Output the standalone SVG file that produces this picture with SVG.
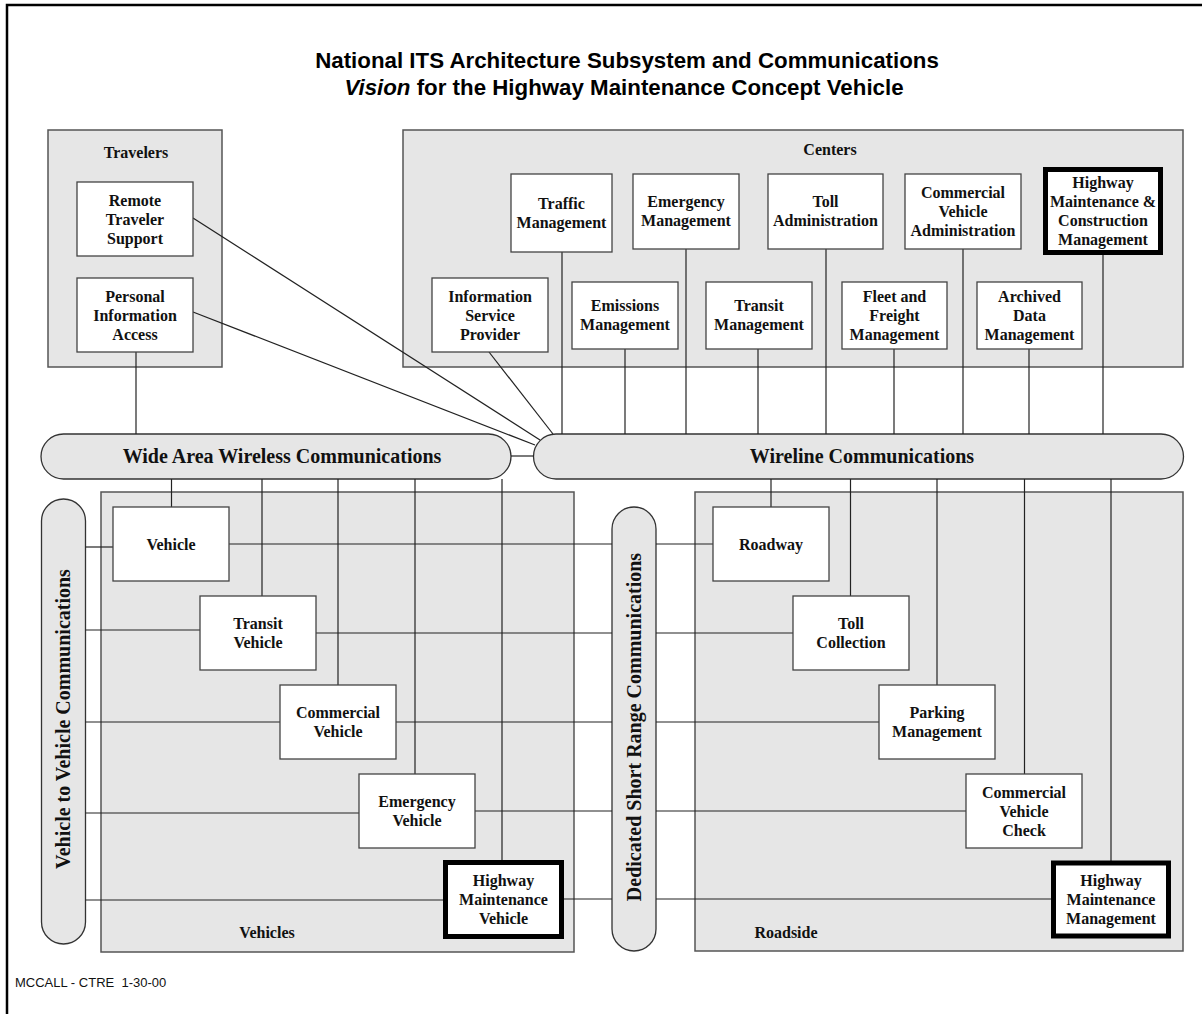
<svg xmlns="http://www.w3.org/2000/svg" width="1202" height="1014" viewBox="0 0 1202 1014">
<style>
.grp{fill:#e6e6e6;stroke:#555;stroke-width:1.5}
.pill{fill:#e6e6e6;stroke:#333;stroke-width:1.3}
.node{fill:#fff;stroke:#444;stroke-width:1.3}
.hl{fill:#fff;stroke:#000;stroke-width:5}
.t{font-family:"Liberation Serif","Times New Roman",serif;font-weight:bold;font-size:16px;fill:#111;text-anchor:middle}
.big{font-size:20px}
.ttl{font-family:"Liberation Sans",Arial,sans-serif;font-weight:bold;font-size:22.3px;fill:#000;text-anchor:middle}
.c line,.c polyline{stroke:#222;stroke-width:1.2;fill:none}
</style>
<rect width="1202" height="1014" fill="#fff"/>
<rect x="7" y="5" width="1300" height="1100" fill="none" stroke="#000" stroke-width="2.5"/>
<g id="title">
<text class="ttl" x="627" y="68">National ITS Architecture Subsystem and Communications</text>
<text class="ttl" x="624" y="95"><tspan font-style="italic">Vision</tspan> for the Highway Maintenance Concept Vehicle</text>
</g>
<g id="travelers"><rect class="grp" x="48" y="130" width="174" height="237"/><text class="t" x="136" y="158">Travelers</text></g>
<g id="centers"><rect class="grp" x="403" y="130" width="780" height="237"/><text class="t" x="830" y="155">Centers</text></g>
<g id="vehicles"><rect class="grp" x="101" y="492" width="473" height="460"/><text class="t" x="267" y="938">Vehicles</text></g>
<g id="roadside"><rect class="grp" x="695" y="492" width="488" height="459"/><text class="t" x="786" y="938">Roadside</text></g>

<g id="wide-area-wireless"><rect class="pill" x="41" y="434" width="470" height="45" rx="22.5"/><text class="t big" x="282" y="463">Wide Area Wireless Communications</text></g>
<g id="wireline"><rect class="pill" x="533.5" y="434" width="650" height="45" rx="22.5"/><text class="t big" x="862" y="463">Wireline Communications</text></g>
<g id="v2v"><rect class="pill" x="41.5" y="499" width="44" height="445" rx="22"/><text class="t big" transform="translate(70,719) rotate(-90)">Vehicle to Vehicle Communications</text></g>
<g id="dsrc"><rect class="pill" x="612" y="507" width="44" height="444" rx="22"/><text class="t big" transform="translate(641,727) rotate(-90)">Dedicated Short Range Communications</text></g>

<g id="connectors" class="c">
<line x1="136" y1="352" x2="136" y2="434"/>
<line x1="193" y1="218" x2="540" y2="440"/>
<line x1="193" y1="312" x2="535" y2="445"/>
<line x1="489" y1="352" x2="553" y2="434"/>
<line x1="511" y1="456" x2="534" y2="456"/>
<line x1="562" y1="252" x2="562" y2="434"/>
<line x1="686" y1="249" x2="686" y2="434"/>
<line x1="826" y1="249" x2="826" y2="434"/>
<line x1="963" y1="249" x2="963" y2="434"/>
<line x1="1103" y1="255" x2="1103" y2="434"/>
<line x1="625" y1="349" x2="625" y2="434"/>
<line x1="758" y1="349" x2="758" y2="434"/>
<line x1="894" y1="349" x2="894" y2="434"/>
<line x1="1029" y1="349" x2="1029" y2="434"/>
<line x1="171.5" y1="479" x2="171.5" y2="507"/>
<line x1="262" y1="479" x2="262" y2="596"/>
<line x1="338" y1="479" x2="338" y2="685"/>
<line x1="415" y1="479" x2="415" y2="774"/>
<line x1="502" y1="479" x2="502" y2="860"/>
<line x1="771" y1="479" x2="771" y2="507"/>
<line x1="850.5" y1="479" x2="850.5" y2="596"/>
<line x1="937" y1="479" x2="937" y2="685"/>
<line x1="1024.5" y1="479" x2="1024.5" y2="774"/>
<line x1="1111" y1="479" x2="1111" y2="861"/>
<line x1="85.5" y1="547" x2="113" y2="547"/>
<line x1="229" y1="544" x2="612" y2="544"/>
<line x1="85.5" y1="630" x2="200" y2="630"/>
<line x1="316" y1="633" x2="612" y2="633"/>
<line x1="85.5" y1="722" x2="280" y2="722"/>
<line x1="396" y1="722" x2="612" y2="722"/>
<line x1="85.5" y1="813" x2="359" y2="813"/>
<line x1="475" y1="811" x2="612" y2="811"/>
<line x1="85.5" y1="900" x2="443" y2="900"/>
<line x1="564" y1="899" x2="612" y2="899"/>
<line x1="656" y1="544" x2="713" y2="544"/>
<line x1="656" y1="633" x2="793" y2="633"/>
<line x1="656" y1="722" x2="879" y2="722"/>
<line x1="656" y1="811" x2="966" y2="811"/>
<line x1="656" y1="899" x2="1051" y2="899"/>
</g>

<g id="remote-traveler-support"><rect class="node" x="77" y="182" width="116" height="74"/><text class="t" x="135" y="205.5">Remote<tspan x="135" dy="19">Traveler</tspan><tspan x="135" dy="19">Support</tspan></text></g>
<g id="personal-information-access"><rect class="node" x="77" y="278" width="116" height="74"/><text class="t" x="135" y="301.5">Personal<tspan x="135" dy="19">Information</tspan><tspan x="135" dy="19">Access</tspan></text></g>

<g id="traffic-management"><rect class="node" x="511" y="174" width="101" height="78"/><text class="t" x="561.5" y="208.5">Traffic<tspan x="561.5" dy="19">Management</tspan></text></g>
<g id="emergency-management"><rect class="node" x="633" y="174" width="106" height="75"/><text class="t" x="686" y="207">Emergency<tspan x="686" dy="19">Management</tspan></text></g>
<g id="toll-administration"><rect class="node" x="768" y="174" width="115" height="75"/><text class="t" x="825.5" y="207">Toll<tspan x="825.5" dy="19">Administration</tspan></text></g>
<g id="commercial-vehicle-administration"><rect class="node" x="905" y="174" width="116" height="75"/><text class="t" x="963" y="197.5">Commercial<tspan x="963" dy="19">Vehicle</tspan><tspan x="963" dy="19">Administration</tspan></text></g>
<g id="highway-maintenance-construction-management"><rect class="hl" x="1045.5" y="169.5" width="115" height="83"/><text class="t" x="1103" y="187.5">Highway<tspan x="1103" dy="19.3">Maintenance &amp;</tspan><tspan x="1103" dy="19.3">Construction</tspan><tspan x="1103" dy="19.3">Management</tspan></text></g>
<g id="information-service-provider"><rect class="node" x="432" y="278" width="116" height="74"/><text class="t" x="490" y="301.5">Information<tspan x="490" dy="19">Service</tspan><tspan x="490" dy="19">Provider</tspan></text></g>
<g id="emissions-management"><rect class="node" x="572" y="282" width="106" height="67"/><text class="t" x="625" y="311">Emissions<tspan x="625" dy="19">Management</tspan></text></g>
<g id="transit-management"><rect class="node" x="706" y="282" width="106" height="67"/><text class="t" x="759" y="311">Transit<tspan x="759" dy="19">Management</tspan></text></g>
<g id="fleet-freight-management"><rect class="node" x="842" y="282" width="105" height="67"/><text class="t" x="894.5" y="301.5">Fleet and<tspan x="894.5" dy="19">Freight</tspan><tspan x="894.5" dy="19">Management</tspan></text></g>
<g id="archived-data-management"><rect class="node" x="977" y="282" width="105" height="67"/><text class="t" x="1029.5" y="301.5">Archived<tspan x="1029.5" dy="19">Data</tspan><tspan x="1029.5" dy="19">Management</tspan></text></g>

<g id="vehicle"><rect class="node" x="113" y="507" width="116" height="74"/><text class="t" x="171" y="550">Vehicle</text></g>
<g id="transit-vehicle"><rect class="node" x="200" y="596" width="116" height="74"/><text class="t" x="258" y="629">Transit<tspan x="258" dy="19">Vehicle</tspan></text></g>
<g id="commercial-vehicle"><rect class="node" x="280" y="685" width="116" height="74"/><text class="t" x="338" y="718">Commercial<tspan x="338" dy="19">Vehicle</tspan></text></g>
<g id="emergency-vehicle"><rect class="node" x="359" y="774" width="116" height="74"/><text class="t" x="417" y="807">Emergency<tspan x="417" dy="19">Vehicle</tspan></text></g>
<g id="highway-maintenance-vehicle"><rect class="hl" x="445.5" y="862.5" width="116" height="74"/><text class="t" x="503.5" y="886">Highway<tspan x="503.5" dy="19">Maintenance</tspan><tspan x="503.5" dy="19">Vehicle</tspan></text></g>

<g id="roadway"><rect class="node" x="713" y="507" width="116" height="74"/><text class="t" x="771" y="550">Roadway</text></g>
<g id="toll-collection"><rect class="node" x="793" y="596" width="116" height="74"/><text class="t" x="851" y="629">Toll<tspan x="851" dy="19">Collection</tspan></text></g>
<g id="parking-management"><rect class="node" x="879" y="685" width="116" height="74"/><text class="t" x="937" y="718">Parking<tspan x="937" dy="19">Management</tspan></text></g>
<g id="commercial-vehicle-check"><rect class="node" x="966" y="774" width="116" height="74"/><text class="t" x="1024" y="797.5">Commercial<tspan x="1024" dy="19">Vehicle</tspan><tspan x="1024" dy="19">Check</tspan></text></g>
<g id="highway-maintenance-management"><rect class="hl" x="1053.5" y="863" width="115" height="73"/><text class="t" x="1111" y="886">Highway<tspan x="1111" dy="19">Maintenance</tspan><tspan x="1111" dy="19">Management</tspan></text></g>

<text x="15" y="987" font-family="'Liberation Sans',Arial,sans-serif" font-size="13" fill="#111" xml:space="preserve">MCCALL - CTRE  1-30-00</text>
</svg>
